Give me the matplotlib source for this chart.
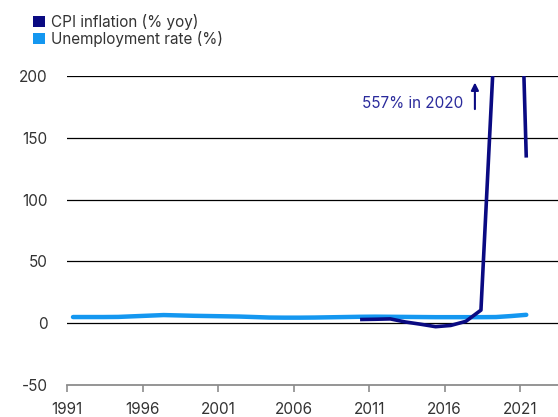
import matplotlib
matplotlib.use("Agg")
import matplotlib.pyplot as plt
from matplotlib.patches import Patch

# data (annual values, plotted at mid-year)
years_unemp = list(range(1991, 2022))
unemployment = [5.0, 5.0, 5.0, 5.1, 5.6, 6.1, 6.6, 6.3, 6.0, 5.8,
                5.6, 5.4, 5.0, 4.6, 4.5, 4.5, 4.6, 4.8, 5.0, 5.2,
                5.3, 5.2, 5.1, 5.0, 4.9, 4.9, 4.9, 4.9, 5.0, 5.8, 6.8]
years_cpi = list(range(2010, 2022))
cpi = [3.0, 3.2, 3.5, 1.0, -0.8, -2.8, -1.8, 1.5, 10.6, 255.3, 557.2, 134.0]
xticks = [1991, 1996, 2001, 2006, 2011, 2016, 2021]
yticks = [-50, 0, 50, 100, 150, 200]

navy = "#0a0a82"
light = "#1497f0"
txt = "#333333"

plt.rcParams['font.family'] = ['Inter', 'DejaVu Sans']
plt.rcParams['axes.unicode_minus'] = False

fig = plt.figure(figsize=(5.58, 4.17), dpi=100, facecolor="white")
ax = fig.add_axes([0.12, 0.0767, 0.88, 0.741])

off = 0.4  # points sit inside the year
ax.plot([y + off for y in years_unemp], unemployment, color=light, lw=3.2,
        solid_capstyle="round", zorder=3)
ax.plot([y + off for y in years_cpi], cpi, color=navy, lw=2.6,
        solid_capstyle="butt", solid_joinstyle="round", zorder=4)

ax.set_xlim(1991, 2023.5)
ax.set_ylim(-50, 200)
ax.set_xticks(xticks)
ax.set_yticks(yticks)

# grid lines (not at -50, that's the axis)
for v in yticks[1:]:
    ax.axhline(v, color="black", lw=0.9, zorder=1)

for s in ["top", "right", "left"]:
    ax.spines[s].set_visible(False)
ax.spines["bottom"].set_color("#8c8c8c")
ax.spines["bottom"].set_linewidth(1.3)
ax.tick_params(axis="x", length=5, width=1.2, color="#8c8c8c", pad=7,
               labelsize=11, labelcolor=txt)
ax.tick_params(axis="y", length=0, pad=14, labelsize=11, labelcolor=txt)

# annotation for the off-scale value
ax.text(2017.2, 178, "557% in 2020", color="#2b2b9c", fontsize=11,
        ha="right", va="center")
ax.annotate("", xy=(2018.0, 197), xytext=(2018.0, 171),
            arrowprops=dict(arrowstyle="-|>", color=navy, lw=1.5,
                            mutation_scale=11))

handles = [Patch(facecolor=navy, edgecolor="none"),
           Patch(facecolor=light, edgecolor="none")]
fig.legend(handles, ["CPI inflation (% yoy)", "Unemployment rate (%)"],
           loc="upper left", bbox_to_anchor=(0.035, 1.0), frameon=False,
           fontsize=11, handlelength=0.75, handleheight=0.75,
           handletextpad=0.4, labelspacing=0.05, labelcolor=txt)

fig.savefig("out.png", dpi=100, facecolor="white")
